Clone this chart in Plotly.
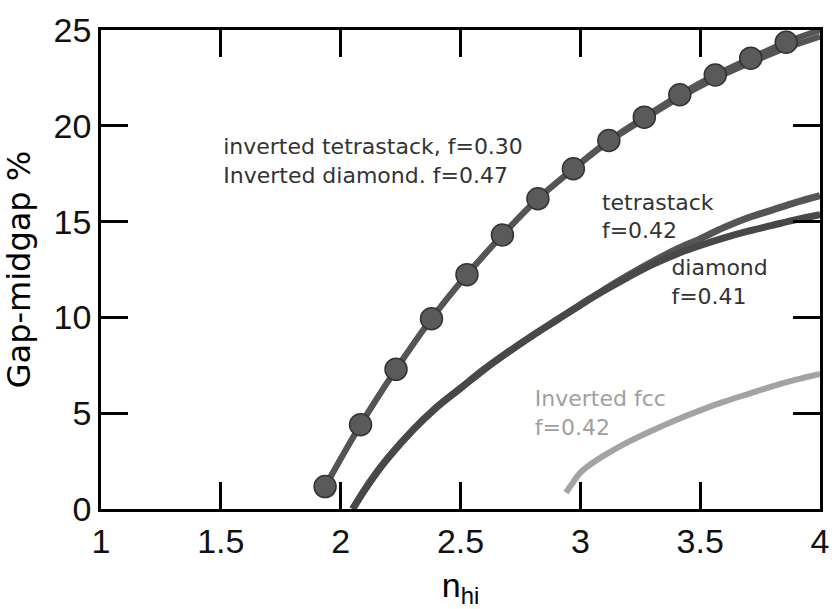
import plotly.graph_objects as go

# Inverted tetrastack (f=0.30) – with circle markers
inv_tet_x = [1.935, 2.083, 2.231, 2.379, 2.527, 2.675, 2.823, 2.971, 3.119, 3.267, 3.415, 3.563, 3.711, 3.859, 4.0]
inv_tet_y = [1.17, 4.40, 7.29, 9.93, 12.23, 14.30, 16.19, 17.76, 19.23, 20.45, 21.62, 22.65, 23.53, 24.36, 25.0]
n_markers = 14

# Inverted diamond (f=0.47)
inv_dia_x = [1.935, 2.083, 2.231, 2.379, 2.527, 2.675, 2.823, 2.971, 3.119, 3.267, 3.415, 3.563, 3.711, 3.859, 4.0]
inv_dia_y = [1.17, 4.40, 7.29, 9.93, 12.23, 14.30, 16.19, 17.74, 19.18, 20.36, 21.48, 22.46, 23.30, 24.06, 24.66]

# Tetrastack (f=0.42)
tet_x = [2.05, 2.10, 2.15, 2.20, 2.30, 2.40, 2.50, 2.60, 2.70, 2.80, 2.90, 3.00, 3.10, 3.20, 3.30, 3.40, 3.50, 3.60, 3.70, 3.80, 3.90, 4.00]
tet_y = [0.0, 1.0, 1.9, 2.7, 4.1, 5.3, 6.3, 7.3, 8.2, 9.05, 9.85, 10.65, 11.45, 12.2, 12.9, 13.55, 14.1, 14.7, 15.2, 15.6, 16.0, 16.35]

# Diamond (f=0.41)
dia_x = [2.05, 2.10, 2.15, 2.20, 2.30, 2.40, 2.50, 2.60, 2.70, 2.80, 2.90, 3.00, 3.10, 3.20, 3.30, 3.40, 3.50, 3.60, 3.70, 3.80, 3.90, 4.00]
dia_y = [0.0, 1.0, 1.9, 2.7, 4.1, 5.3, 6.3, 7.3, 8.2, 9.05, 9.85, 10.65, 11.4, 12.1, 12.75, 13.3, 13.75, 14.15, 14.5, 14.8, 15.1, 15.36]

# Inverted fcc (f=0.42)
fcc_x = [2.94, 2.97, 3.00, 3.05, 3.10, 3.20, 3.30, 3.40, 3.50, 3.60, 3.70, 3.80, 3.90, 4.00]
fcc_y = [0.85, 1.4, 1.9, 2.4, 2.8, 3.5, 4.1, 4.65, 5.15, 5.6, 6.0, 6.4, 6.75, 7.05]

# Curve labels (anchor points in data units)
label_x = [1.51, 3.09, 3.38]
label_y = [18.05, 15.17, 11.74]
label_text = ["inverted tetrastack, f=0.30<br>Inverted diamond. f=0.47",
              "tetrastack<br>f=0.42",
              "diamond<br>f=0.41"]
fcc_label_x = [2.81]
fcc_label_y = [4.89]
fcc_label_text = ["Inverted fcc<br>f=0.42"]

DARK = "#555555"
LIGHT = "#a3a3a3"

fig = go.Figure()
fig.add_trace(go.Scatter(x=tet_x, y=tet_y, mode="lines", line=dict(color=DARK, width=7, shape="spline"), showlegend=False))
fig.add_trace(go.Scatter(x=dia_x, y=dia_y, mode="lines", line=dict(color="#484848", width=7, shape="spline"), showlegend=False))
fig.add_trace(go.Scatter(x=fcc_x, y=fcc_y, mode="lines", line=dict(color=LIGHT, width=6, shape="spline"), showlegend=False))
fig.add_trace(go.Scatter(x=inv_dia_x, y=inv_dia_y, mode="lines", line=dict(color=DARK, width=6, shape="spline"), showlegend=False))
fig.add_trace(go.Scatter(x=inv_tet_x, y=inv_tet_y, mode="lines", line=dict(color=DARK, width=6, shape="spline"), showlegend=False))
fig.add_trace(go.Scatter(x=inv_tet_x[:n_markers], y=inv_tet_y[:n_markers], mode="markers",
                         marker=dict(symbol="circle", size=22, color="#5a5a5a",
                                     line=dict(color="#333333", width=1.5)),
                         showlegend=False))
fig.add_trace(go.Scatter(x=label_x, y=label_y, text=label_text, mode="text", textposition="middle right",
                         textfont=dict(family="DejaVu Sans", size=22, color="#333333"),
                         showlegend=False, hoverinfo="skip"))
fig.add_trace(go.Scatter(x=fcc_label_x, y=fcc_label_y, text=fcc_label_text, mode="text", textposition="middle right",
                         textfont=dict(family="DejaVu Sans", size=22, color="#a0a0a0"),
                         showlegend=False, hoverinfo="skip"))

base = dict(ticks="inside", ticklen=27, tickwidth=2.5, tickcolor="black",
            showline=True, linecolor="black", linewidth=2.5, mirror="allticks",
            showgrid=False, zeroline=False,
            tickfont=dict(family="Liberation Sans", size=34, color="#111111"))
fig.update_xaxes(range=[1, 4], dtick=0.5,
                 title=dict(text="n<sub>hi</sub>", font=dict(family="Liberation Sans", size=34, color="black")),
                 **base)
fig.update_yaxes(range=[0, 25], dtick=5,
                 title=dict(text="Gap-midgap %", font=dict(family="DejaVu Sans", size=32, color="black")),
                 **base)
fig.update_layout(width=840, height=609, margin=dict(l=101, r=11, t=25, b=73),
                  plot_bgcolor="white", paper_bgcolor="white")
fig.write_html("out.html")
